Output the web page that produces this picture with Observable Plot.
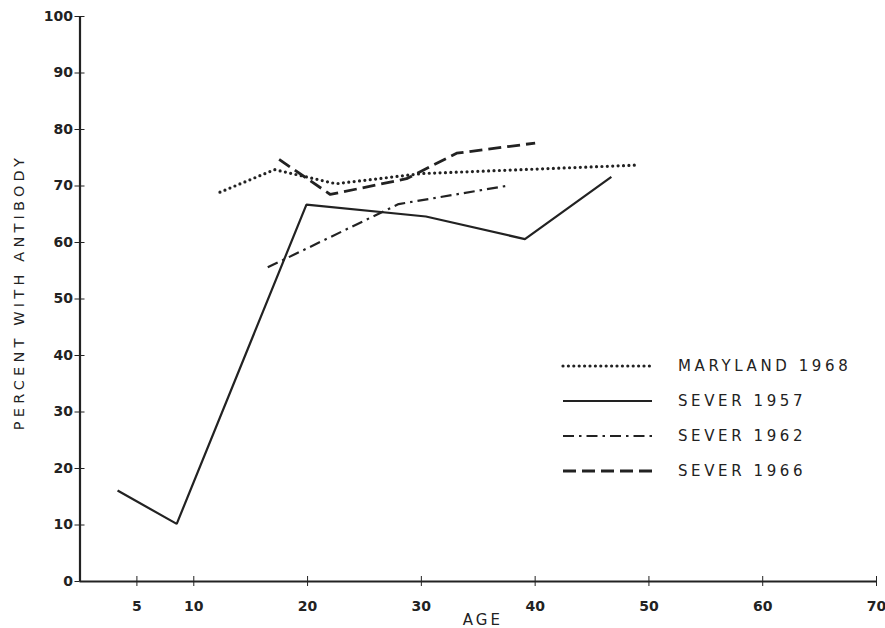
<!DOCTYPE html>
<html>
<head>
<meta charset="utf-8">
<script src="https://cdn.jsdelivr.net/npm/d3@7"></script>
<script src="https://cdn.jsdelivr.net/npm/@observablehq/plot@0.6"></script>
<style>
  html, body { margin: 0; padding: 0; background: #fff; }
  #wrap { position: relative; width: 885px; height: 628px; font-family: "DejaVu Sans", sans-serif; color: #222; }
  #wrap svg text { fill: #222; }
  #legend { position: absolute; left: 560px; top: 348px; }
  .lg-row { display: flex; align-items: center; height: 35px; }
  .lg-row span { margin-left: 24px; font-size: 15px; letter-spacing: 3.6px; color: #222; }
</style>
</head>
<body>
<div id="wrap"></div>
<script>
// ---- data ----
const seriesNames = ["MARYLAND 1968", "SEVER 1957", "SEVER 1962", "SEVER 1966"];

const ageMaryland1968 = [12.3, 17.1, 22.5, 30.0, 49.0];
const pctMaryland1968 = [68.9, 72.9, 70.4, 72.2, 73.7];

const ageSever1957 = [3.3, 8.5, 19.9, 30.4, 39.1, 46.7];
const pctSever1957 = [16.1, 10.2, 66.7, 64.6, 60.6, 71.6];

const ageSever1962 = [16.5, 28.0, 37.4];
const pctSever1962 = [55.6, 66.8, 70.0];

const ageSever1966 = [17.5, 22.0, 28.7, 33.1, 40.0];
const pctSever1966 = [74.7, 68.5, 71.3, 75.8, 77.6];

const xTicks = [5, 10, 20, 30, 40, 50, 60, 70];
const yTicks = [0, 10, 20, 30, 40, 50, 60, 70, 80, 90, 100];

const xTitle = "AGE";
const yTitle = "PERCENT WITH ANTIBODY";

// ---- styles ----
const ink = "#222";
const styles = {
  "MARYLAND 1968": {strokeWidth: 3.2, strokeDasharray: "0,5.4", strokeLinecap: "round"},
  "SEVER 1957": {strokeWidth: 2.2, strokeDasharray: null, strokeLinecap: "butt"},
  "SEVER 1962": {strokeWidth: 2.2, strokeDasharray: "11,5,2.5,5", strokeLinecap: "butt"},
  "SEVER 1966": {strokeWidth: 2.8, strokeDasharray: "13,6", strokeLinecap: "butt"}
};

const toRows = (name, xs, ys) => xs.map((x, i) => ({series: name, age: x, pct: ys[i]}));
const seriesData = {
  "MARYLAND 1968": toRows("MARYLAND 1968", ageMaryland1968, pctMaryland1968),
  "SEVER 1957": toRows("SEVER 1957", ageSever1957, pctSever1957),
  "SEVER 1962": toRows("SEVER 1962", ageSever1962, pctSever1962),
  "SEVER 1966": toRows("SEVER 1966", ageSever1966, pctSever1966)
};

const lineMarks = seriesNames.map(name => Plot.line(seriesData[name], {
  x: "age", y: "pct", stroke: ink, strokeLinejoin: "miter",
  ...Object.fromEntries(Object.entries(styles[name]).filter(([k, v]) => v != null))
}));

const chart = Plot.plot({
  width: 885,
  height: 628,
  marginLeft: 79.5,
  marginRight: 9,
  marginTop: 16,
  marginBottom: 47,
  style: {fontFamily: "DejaVu Sans, sans-serif", fontSize: "14px", color: ink, background: "#fff"},
  x: {domain: [0, 70]},
  y: {domain: [0, 100]},
  marks: [
    Plot.axisY({ticks: yTicks, tickSize: 5, tickPadding: 2, label: null, fontSize: 14, fontWeight: "bold", tickFormat: d => String(d)}),
    Plot.axisY({ticks: yTicks, tickSize: -5, tickFormat: () => "", label: null}),
    Plot.axisX({ticks: xTicks, tickSize: 5, tickPadding: 15, label: null, fontSize: 14, fontWeight: "bold"}),
    Plot.axisX({ticks: xTicks, tickSize: -5, tickFormat: () => "", label: null}),
    Plot.ruleX([0], {stroke: ink, strokeWidth: 2.2}),
    Plot.ruleY([0], {stroke: ink, strokeWidth: 2.2}),
    // axis titles
    Plot.text([yTitle], {text: d => d, frameAnchor: "left", textAnchor: "middle", dx: -61, dy: -7, rotate: -90, fontSize: 14.5, className: "ytitle"}),
    Plot.text([xTitle], {text: d => d, frameAnchor: "bottom", dy: 43, x: () => 35.4, fontSize: 15, className: "xtitle"}),
    ...lineMarks
  ]
});

const wrap = document.getElementById("wrap");
wrap.appendChild(chart);
d3.select(chart).selectAll(".ytitle text").style("letter-spacing", "4.2px");
d3.select(chart).selectAll(".xtitle text").style("letter-spacing", "3px");

// legend (HTML overlay, line samples drawn with the same styles)
const legend = document.createElement("div");
legend.id = "legend";
for (const name of seriesNames) {
  const s = styles[name];
  const row = document.createElement("div");
  row.className = "lg-row";
  const ns = "http://www.w3.org/2000/svg";
  const svg = document.createElementNS(ns, "svg");
  svg.setAttribute("width", 94);
  svg.setAttribute("height", 10);
  const ln = document.createElementNS(ns, "line");
  ln.setAttribute("x1", 3); ln.setAttribute("x2", 92);
  ln.setAttribute("y1", 5); ln.setAttribute("y2", 5);
  ln.setAttribute("stroke", ink);
  ln.setAttribute("stroke-width", s.strokeWidth);
  if (s.strokeDasharray) ln.setAttribute("stroke-dasharray", s.strokeDasharray);
  ln.setAttribute("stroke-linecap", s.strokeLinecap);
  svg.appendChild(ln);
  row.appendChild(svg);
  const t = document.createElement("span");
  t.textContent = name;
  row.appendChild(t);
  legend.appendChild(row);
}
wrap.appendChild(legend);
</script>
</body>
</html>
